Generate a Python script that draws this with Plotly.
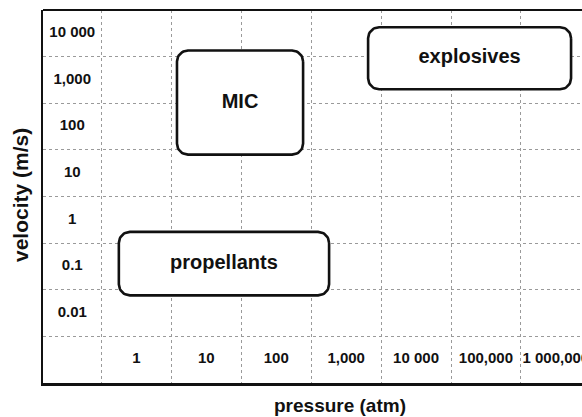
import numpy as np
import plotly.graph_objects as go

# Operating regimes: pressure span (atm) and velocity span (m/s)
regimes = ["MIC", "explosives", "propellants"]
pressure_low = [3.8, 2060, 0.56]
pressure_high = [242, 1.65e6, 570]
velocity_low = [25, 630, 0.024]
velocity_high = [4280, 13500, 0.55]

# Decade labels written inside the frame
pressure_ticks = [1, 10, 100, 1000, 10000, 100000, 1000000]
pressure_labels = ["1", "10", "100", "1,000", "10 000", "100,000", "1 000,000"]
velocity_ticks = [0.01, 0.1, 1, 10, 100, 1000, 10000]
velocity_labels = ["0.01", "0.1", "1", "10", "100", "1,000", "10 000"]

W, H = 582, 417
M = dict(l=43, r=0, t=10, b=34)
x_range = [-1.337, 6.374]   # log10 pressure
y_range = [-3.5, 4.5]       # log10 velocity

plot_w = W - M["l"] - M["r"]
plot_h = H - M["t"] - M["b"]
px_per_dec_x = plot_w / (x_range[1] - x_range[0])
px_per_dec_y = plot_h / (y_range[1] - y_range[0])

FONT = "Liberation Sans, Arial, sans-serif"
INK = "#111111"


def rounded_box(p0, p1, v0, v1, radius_px=11, n=12):
    """Outline of a rounded rectangle on log-log axes."""
    lx0, lx1 = np.log10(p0), np.log10(p1)
    ly0, ly1 = np.log10(v0), np.log10(v1)
    rx = radius_px / px_per_dec_x
    ry = radius_px / px_per_dec_y
    corners = [
        (lx1 - rx, ly1 - ry, 0.0),          # top-right
        (lx0 + rx, ly1 - ry, np.pi / 2),    # top-left
        (lx0 + rx, ly0 + ry, np.pi),        # bottom-left
        (lx1 - rx, ly0 + ry, 1.5 * np.pi),  # bottom-right
    ]
    xs, ys = [], []
    for cx, cy, a0 in corners:
        t = np.linspace(a0, a0 + np.pi / 2, n)
        xs.extend(cx + rx * np.cos(t))
        ys.extend(cy + ry * np.sin(t))
    xs.append(xs[0])
    ys.append(ys[0])
    return 10 ** np.array(xs), 10 ** np.array(ys)


fig = go.Figure()

for name, p0, p1, v0, v1 in zip(regimes, pressure_low, pressure_high,
                                velocity_low, velocity_high):
    bx, by = rounded_box(p0, p1, v0, v1)
    fig.add_trace(go.Scatter(
        x=bx, y=by, mode="lines", fill="toself", fillcolor="white",
        line=dict(color=INK, width=2.6), hoverinfo="skip",
    ))
    fig.add_trace(go.Scatter(
        x=[np.sqrt(p0 * p1)], y=[np.sqrt(v0 * v1)], mode="text",
        text=[f"<b>{name}</b>"],
        textfont=dict(family=FONT, size=20, color=INK),
        textposition="middle center", hoverinfo="skip",
    ))

# pressure decade labels along the bottom row
fig.add_trace(go.Scatter(
    x=pressure_ticks, y=[10 ** (y_range[0] + 0.5)] * len(pressure_ticks),
    mode="text", text=[f"<b>{t}</b>" for t in pressure_labels],
    textfont=dict(family=FONT, size=15, color=INK),
    textposition="middle center", hoverinfo="skip",
))

# velocity decade labels in the left column
label_x = 10 ** ((x_range[0] - 0.5) / 2)
fig.add_trace(go.Scatter(
    x=[label_x] * len(velocity_ticks), y=velocity_ticks,
    mode="text", text=[f"<b>{t}</b>" for t in velocity_labels],
    textfont=dict(family=FONT, size=15, color=INK),
    textposition="middle center", hoverinfo="skip",
))

grid = dict(showgrid=True, gridcolor="#9a9a9a", gridwidth=1, griddash="dot",
            showticklabels=False, ticks="", zeroline=False)

fig.update_xaxes(
    type="log", range=x_range, tickvals=10 ** np.arange(-0.5, 6.0, 1.0),
    showline=True, linecolor=INK, linewidth=3, mirror=False, **grid,
)
fig.update_yaxes(
    type="log", range=y_range, tickvals=10 ** np.arange(-2.5, 4.0, 1.0),
    showline=True, linecolor=INK, linewidth=2, mirror=False, **grid,
)

fig.update_layout(
    width=W, height=H, margin=M,
    paper_bgcolor="white", plot_bgcolor="white",
    showlegend=False,
    shapes=[dict(type="line", xref="paper", yref="paper", x0=0, x1=1,
                 y0=1, y1=1, line=dict(color=INK, width=2))],
    annotations=[
        dict(text="<b>velocity (m/s)</b>", xref="paper", yref="paper",
             x=(20 - M["l"]) / plot_w, y=(H - M["b"] - 195) / plot_h,
             textangle=-90, showarrow=False, xanchor="center", yanchor="middle",
             font=dict(family=FONT, size=21, color=INK)),
        dict(text="<b>pressure (atm)</b>", xref="paper", yref="paper",
             x=(339.5 - M["l"]) / plot_w, y=(H - M["b"] - 405.5) / plot_h,
             showarrow=False, xanchor="center", yanchor="middle",
             font=dict(family=FONT, size=19, color=INK)),
    ],
)

fig.write_html("out.html")
